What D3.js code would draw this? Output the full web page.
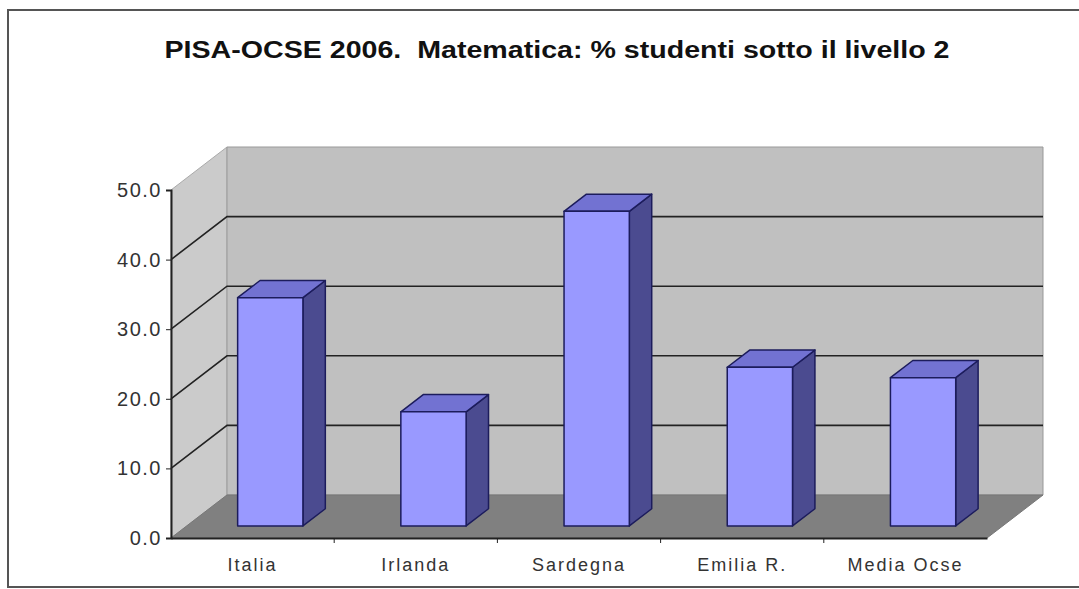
<!DOCTYPE html>
<html>
<head>
<meta charset="utf-8">
<script src="https://cdn.jsdelivr.net/npm/d3@7"></script>
<style>
  body { margin: 0; background: #fff; }
  text { font-family: "Liberation Sans", Arial, sans-serif; }
</style>
</head>
<body>
<div id="chart"></div>
<script>
//DATA--------------------
var categories = ["Italia", "Irlanda", "Sardegna", "Emilia R.", "Media Ocse"];
var values = [32.8, 16.4, 45.2, 22.8, 21.3];
var yTicks = [0, 10, 20, 30, 40, 50];
var title = "PISA-OCSE 2006.  Matematica: % studenti sotto il livello 2";

//SET BOUNDARIES--------------------
var svgWidth = 1079;
var svgHeight = 589;

// front plane of the 3D box
var plot = { left: 171, right: 987, top: 190, bottom: 538 };
// depth offset of the box (back minus front)
var depth = { dx: 56, dy: -43 };

var svg = d3.select("#chart")
    .append("svg")
    .attr("width", svgWidth)
    .attr("height", svgHeight);

// outer frame
svg.append("rect")
    .attr("x", 8).attr("y", 10)
    .attr("width", 1090).attr("height", 577)
    .attr("fill", "#fff")
    .attr("stroke", "#555")
    .attr("stroke-width", 2);

//SCALES--------------------
var xScale = d3.scaleBand()
    .domain(categories)
    .range([plot.left, plot.right]);

var yScale = d3.scaleLinear()
    .domain([0, 50])
    .range([plot.bottom, plot.top]);

// projected point: x on front plane, value, depth fraction 0..1
function pt(x, v, f) {
    return [x + depth.dx * f, yScale(v) + depth.dy * f];
}
function poly(points) {
    return points.map(p => p.join(",")).join(" ");
}

var yMax = d3.max(yTicks);

//WALLS--------------------
// left wall
svg.append("polygon")
    .attr("points", poly([pt(plot.left, 0, 0), pt(plot.left, yMax, 0), pt(plot.left, yMax, 1), pt(plot.left, 0, 1)]))
    .attr("fill", "#cbcbcb")
    .attr("stroke", "#aaa");

// back wall
svg.append("polygon")
    .attr("points", poly([pt(plot.left, 0, 1), pt(plot.left, yMax, 1), pt(plot.right, yMax, 1), pt(plot.right, 0, 1)]))
    .attr("fill", "#c0c0c0")
    .attr("stroke", "#999");

// floor
svg.append("polygon")
    .attr("points", poly([pt(plot.left, 0, 0), pt(plot.right, 0, 0), pt(plot.right, 0, 1), pt(plot.left, 0, 1)]))
    .attr("fill", "#808080")
    .attr("stroke", "#777");

// gridlines: diagonal on left wall + horizontal on back wall
var grid = yTicks.filter(t => t > 0 && t < yMax);
svg.selectAll("polyline.grid")
    .data(grid)
    .enter()
    .append("polyline")
    .attr("class", "grid")
    .attr("points", d => poly([pt(plot.left, d, 0), pt(plot.left, d, 1), pt(plot.right, d, 1)]))
    .attr("fill", "none")
    .attr("stroke", "#222")
    .attr("stroke-width", 1.6);

//BARS--------------------
var barFront = 0.28;   // depth where the bar front face sits
var barDepth = 0.40;   // bar depth as a fraction of the box
var barWidth = xScale.bandwidth() * 0.40;

var bars = svg.selectAll("g.bar")
    .data(categories.map((c, i) => ({ cat: c, val: values[i] })))
    .enter()
    .append("g")
    .attr("class", "bar");

function barX0(d) { return xScale(d.cat) + (xScale.bandwidth() - barWidth) / 2 + 2; }

// side face
bars.append("polygon")
    .attr("points", d => {
        var x1 = barX0(d) + barWidth;
        return poly([pt(x1, 0, barFront), pt(x1, d.val, barFront), pt(x1, d.val, barFront + barDepth), pt(x1, 0, barFront + barDepth)]);
    })
    .attr("fill", "#4b4b90")
    .attr("stroke", "#1c1c5c")
    .attr("stroke-width", 1.5)
    .attr("stroke-linejoin", "round");

// top face
bars.append("polygon")
    .attr("points", d => {
        var x0 = barX0(d), x1 = x0 + barWidth;
        return poly([pt(x0, d.val, barFront), pt(x1, d.val, barFront), pt(x1, d.val, barFront + barDepth), pt(x0, d.val, barFront + barDepth)]);
    })
    .attr("fill", "#7272d2")
    .attr("stroke", "#1c1c5c")
    .attr("stroke-width", 1.5)
    .attr("stroke-linejoin", "round");

// front face
bars.append("polygon")
    .attr("points", d => {
        var x0 = barX0(d), x1 = x0 + barWidth;
        return poly([pt(x0, 0, barFront), pt(x0, d.val, barFront), pt(x1, d.val, barFront), pt(x1, 0, barFront)]);
    })
    .attr("fill", "#9999ff")
    .attr("stroke", "#1c1c5c")
    .attr("stroke-width", 1.5)
    .attr("stroke-linejoin", "round");

//AXES--------------------
var leftAxis = d3.axisLeft(yScale)
    .tickValues(yTicks)
    .tickFormat(d3.format(".1f"))
    .tickSize(5)
    .tickPadding(4);

var yAxis = svg.append("g")
    .attr("transform", `translate(${plot.left}, 0)`)
    .call(leftAxis);

var bottomAxis = d3.axisBottom(xScale)
    .tickSize(0)
    .tickPadding(20);

var xAxis = svg.append("g")
    .attr("transform", `translate(0, ${plot.bottom})`)
    .call(bottomAxis);

// category boundary ticks
xAxis.selectAll("line.sep")
    .data(categories.slice(1))
    .enter()
    .append("line")
    .attr("class", "sep")
    .attr("x1", d => xScale(d)).attr("x2", d => xScale(d))
    .attr("y1", 0).attr("y2", 5)
    .attr("stroke", "#222");

[yAxis, xAxis].forEach(a => {
    a.select(".domain").attr("stroke", "#222").attr("stroke-width", 2);
    a.selectAll(".tick line").attr("stroke", "#222");
    a.selectAll("text")
        .attr("fill", "#333")
        .style("font-family", "'Liberation Sans', Arial, sans-serif");
});
yAxis.selectAll("text").style("font-size", "20px").attr("letter-spacing", "1.5px");
xAxis.selectAll("text").style("font-size", "18px").attr("letter-spacing", "2px");

//TITLE--------------------
svg.append("text")
    .attr("x", 557)
    .attr("y", 58)
    .attr("text-anchor", "middle")
    .attr("textLength", 785)
    .attr("lengthAdjust", "spacingAndGlyphs")
    .style("white-space", "pre")
    .style("font-size", "23px")
    .style("font-weight", "bold")
    .attr("fill", "#111")
    .text(title);
</script>
</body>
</html>
